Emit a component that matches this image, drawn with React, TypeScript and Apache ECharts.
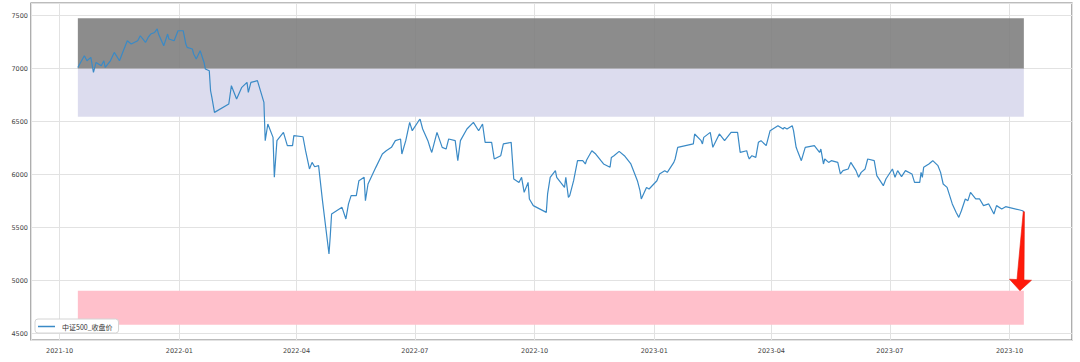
import React, { useEffect, useRef } from 'react';
import * as echarts from 'echarts';

const seriesName = '中证500_收盘价';

const dates = [
  '2021-10-15','2021-10-20','2021-10-22','2021-10-25','2021-10-27','2021-10-29','2021-11-02','2021-11-04','2021-11-05','2021-11-09',
  '2021-11-12','2021-11-16','2021-11-18','2021-11-22','2021-11-25','2021-11-30','2021-12-02','2021-12-06','2021-12-08','2021-12-10',
  '2021-12-13','2021-12-15','2021-12-16','2021-12-20','2021-12-23','2021-12-24','2021-12-28','2021-12-31','2022-01-04','2022-01-06',
  '2022-01-07','2022-01-11','2022-01-12','2022-01-14','2022-01-17','2022-01-20','2022-01-21','2022-01-24','2022-01-25','2022-01-26',
  '2022-01-28','2022-02-08','2022-02-10','2022-02-14','2022-02-18','2022-02-22','2022-02-23','2022-02-25','2022-03-02','2022-03-07',
  '2022-03-08','2022-03-10','2022-03-14','2022-03-15','2022-03-17','2022-03-22','2022-03-25','2022-03-29','2022-03-30','2022-04-06',
  '2022-04-08','2022-04-11','2022-04-13','2022-04-15','2022-04-18','2022-04-21','2022-04-26','2022-04-27','2022-04-28','2022-05-06',
  '2022-05-09','2022-05-11','2022-05-13','2022-05-17','2022-05-19','2022-05-23','2022-05-24','2022-05-26','2022-06-01','2022-06-06',
  '2022-06-09','2022-06-13','2022-06-16','2022-06-20','2022-06-21','2022-06-24','2022-06-27','2022-06-29','2022-07-04','2022-07-05',
  '2022-07-07','2022-07-11','2022-07-13','2022-07-14','2022-07-18','2022-07-22','2022-07-25','2022-07-27','2022-08-01','2022-08-03',
  '2022-08-05','2022-08-10','2022-08-15','2022-08-19','2022-08-22','2022-08-24','2022-08-29','2022-08-31','2022-09-05','2022-09-07',
  '2022-09-13','2022-09-15','2022-09-19','2022-09-21','2022-09-23','2022-09-26','2022-09-27','2022-09-30','2022-10-10','2022-10-11',
  '2022-10-13','2022-10-17','2022-10-18','2022-10-21','2022-10-24','2022-10-25','2022-10-27','2022-10-28','2022-10-31','2022-11-03',
  '2022-11-07','2022-11-09','2022-11-10','2022-11-14','2022-11-17','2022-11-21','2022-11-23','2022-11-28','2022-11-29','2022-12-01',
  '2022-12-05','2022-12-09','2022-12-14','2022-12-19','2022-12-21','2022-12-22','2022-12-26','2022-12-28','2023-01-03','2023-01-05',
  '2023-01-09','2023-01-11','2023-01-16','2023-01-17','2023-01-19','2023-01-31','2023-02-01','2023-02-06','2023-02-07','2023-02-08',
  '2023-02-13','2023-02-15','2023-02-20','2023-02-24','2023-03-01','2023-03-06','2023-03-07','2023-03-08','2023-03-13','2023-03-14',
  '2023-03-15','2023-03-17','2023-03-20','2023-03-22','2023-03-24','2023-03-28','2023-03-31','2023-04-06','2023-04-10','2023-04-11',
  '2023-04-13','2023-04-17','2023-04-18','2023-04-20','2023-04-21','2023-04-24','2023-04-27','2023-05-04','2023-05-08','2023-05-09',
  '2023-05-11','2023-05-12','2023-05-15','2023-05-17','2023-05-22','2023-05-24','2023-05-26','2023-05-30','2023-06-01','2023-06-05',
  '2023-06-07','2023-06-09','2023-06-12','2023-06-14','2023-06-19','2023-06-21','2023-06-26','2023-06-28','2023-07-03','2023-07-05',
  '2023-07-07','2023-07-10','2023-07-13','2023-07-18','2023-07-20','2023-07-24','2023-07-25','2023-07-26','2023-07-27','2023-07-31',
  '2023-08-03','2023-08-07','2023-08-09','2023-08-11','2023-08-14','2023-08-16','2023-08-18','2023-08-21','2023-08-23','2023-08-25',
  '2023-08-28','2023-08-30','2023-09-01','2023-09-05','2023-09-08','2023-09-11','2023-09-15','2023-09-19','2023-09-21','2023-09-25',
  '2023-09-28','2023-10-09','2023-10-11','2023-10-12',
];

const closes = [
  7012,7123,7075,7107,6965,7059,7028,7075,7012,7075,
  7154,7075,7139,7264,7233,7264,7311,7248,7295,7327,
  7342,7375,7327,7217,7327,7280,7264,7358,7358,7233,
  7201,7186,7139,7092,7170,7059,6997,6981,6792,6729,
  6588,6667,6840,6714,6824,6871,6776,6871,6887,6682,
  6321,6478,6352,5975,6321,6399,6274,6274,6368,6358,
  6226,6054,6116,6075,6085,5755,5252,5425,5629,5692,
  5582,5724,5802,5802,5943,5975,5755,5912,6069,6195,
  6226,6258,6321,6337,6195,6321,6493,6415,6509,6525,
  6431,6321,6242,6210,6399,6258,6242,6337,6321,6132,
  6321,6431,6493,6415,6478,6305,6305,6148,6179,6290,
  6305,5959,5927,5975,5833,5927,5771,5708,5644,5818,
  5975,6038,5975,5927,5880,5975,5786,5802,5943,6132,
  6132,6101,6139,6226,6195,6132,6101,6070,6163,6179,
  6220,6179,6101,5943,5849,5771,5880,5865,5943,6007,
  6038,6022,6116,6148,6258,6290,6384,6321,6290,6352,
  6399,6258,6384,6321,6399,6399,6305,6210,6226,6179,
  6148,6179,6163,6305,6321,6274,6415,6462,6431,6446,
  6431,6462,6415,6258,6226,6132,6258,6274,6210,6242,
  6101,6148,6116,6132,6116,6007,6038,6054,6116,6038,
  5975,6022,6054,6148,6132,5991,5896,5959,6054,5975,
  6038,5981,6038,6007,5927,5927,6022,5975,6069,6101,
  6132,6085,6022,5912,5880,5802,5724,5644,5597,5660,
  5771,5755,5833,5771,5771,5708,5724,5629,5708,5676,
  5698,5667,5660,5650,
];

// shaded zones: [low, high], spanning the data period
const zoneStart = '2021-10-15';
const zoneEnd = '2023-10-12';
const zoneLows = [7000, 6547, 4585];
const zoneHighs = [7475, 7000, 4905];

// arrow annotation: from last close down to target
const arrowFrom: [string, number] = ['2023-10-12', 5650];
const arrowTo: [string, number] = ['2023-10-09', 4905];

const xRange = ['2021-09-09', '2023-11-18'];
const yRange = [4440, 7620];

const zoneColors = ['rgba(128,128,128,0.9)', '#dcdcee', '#ffc0cb'];

export default function App() {
  const ref = useRef<HTMLDivElement>(null);
  useEffect(() => {
    if (!ref.current) return;
    const chart = echarts.init(ref.current, null, { renderer: 'svg' });
    const parse = (s: string) => +echarts.time.parse(s);
    const DAY = 24 * 3600 * 1000;
    const option: any = {
      animation: false,
      backgroundColor: '#ffffff',
      textStyle: { fontFamily: 'DejaVu Sans' },
      grid: {
        left: 31, right: 8, top: 3, bottom: 22,
        show: true, borderColor: '#7a7a7a', borderWidth: 1.2, backgroundColor: '#ffffff',
      },
      legend: {
        left: 35, top: 319,
        data: [{ name: seriesName, icon: 'rect' }],
        itemWidth: 17, itemHeight: 1.5,
        padding: [4, 6, 3, 3],
        backgroundColor: '#ffffff', borderColor: '#d4d4d4', borderWidth: 1, borderRadius: 3,
        textStyle: { fontSize: 7, color: '#333', fontFamily: 'Noto Sans CJK SC', padding: [0, 0, 0, 2] },
      },
      xAxis: {
        type: 'time',
        min: parse(xRange[0]),
        max: parse(xRange[1]),
        minInterval: 89 * DAY,
        maxInterval: 92 * DAY,
        axisLine: { show: false },
        axisTick: { show: false },
        splitLine: { show: true, lineStyle: { color: '#e2e2e2', width: 1 } },
        axisLabel: {
          formatter: '{yyyy}-{MM}', fontSize: 6.5, color: '#444', margin: 7,
          fontFamily: 'DejaVu Sans', hideOverlap: false,
        },
      },
      yAxis: {
        type: 'value',
        min: yRange[0], max: yRange[1],
        axisLine: { show: false },
        axisTick: { show: false },
        splitLine: { show: true, lineStyle: { color: '#e2e2e2', width: 1 } },
        axisLabel: {
          fontSize: 6.5, color: '#444', margin: 3, showMinLabel: false, showMaxLabel: false,
          fontFamily: 'DejaVu Sans',
          formatter: (v: number) => String(v),
        },
      },
      series: [
        {
          name: seriesName,
          type: 'line',
          data: dates.map((d, i) => [d, closes[i]]),
          showSymbol: false,
          symbol: 'none',
          lineStyle: { color: '#3a8ac6', width: 1.2 },
          itemStyle: { color: '#3a8ac6' },
          z: 3,
          markArea: {
            silent: true,
            data: zoneLows.map((lo, i) => [
              { xAxis: zoneStart, yAxis: lo, itemStyle: { color: zoneColors[i], opacity: 1 } },
              { xAxis: zoneEnd, yAxis: zoneHighs[i] },
            ]),
          },
        },
        {
          name: 'arrow',
          type: 'custom',
          z: 5,
          clip: false,
          silent: true,
          data: [[parse(arrowFrom[0]), arrowFrom[1], parse(arrowTo[0]), arrowTo[1]]],
          encode: { x: [0, 2], y: [1, 3] },
          renderItem: (params: any, api: any) => {
            const p0 = api.coord([api.value(0), api.value(1)]);
            const p1 = api.coord([api.value(2), api.value(3)]);
            const dx = p1[0] - p0[0], dy = p1[1] - p0[1];
            const len = Math.hypot(dx, dy) || 1;
            const ux = dx / len, uy = dy / len;
            const nx = -uy, ny = ux;
            const headLen = 11, headHalf = 11, tailHalf = 0.6, neckHalf = 3.5;
            const bx = p1[0] - ux * headLen, by = p1[1] - uy * headLen;
            const pts = [
              [p0[0] + nx * tailHalf, p0[1] + ny * tailHalf],
              [bx + nx * neckHalf, by + ny * neckHalf],
              [bx + nx * headHalf, by + ny * headHalf],
              [p1[0], p1[1]],
              [bx - nx * headHalf, by - ny * headHalf],
              [bx - nx * neckHalf, by - ny * neckHalf],
              [p0[0] - nx * tailHalf, p0[1] - ny * tailHalf],
            ];
            return {
              type: 'polygon',
              shape: { points: pts },
              style: { fill: '#ff1a0a', stroke: '#e81808', lineWidth: 0.6 },
            };
          },
        },
      ],
    };
    chart.setOption(option);
    return () => chart.dispose();
  }, []);
  return (
    <div
      ref={ref}
      style={{ position: 'fixed', left: 0, top: 0, width: 1080, height: 362, background: '#fff' }}
    />
  );
}
